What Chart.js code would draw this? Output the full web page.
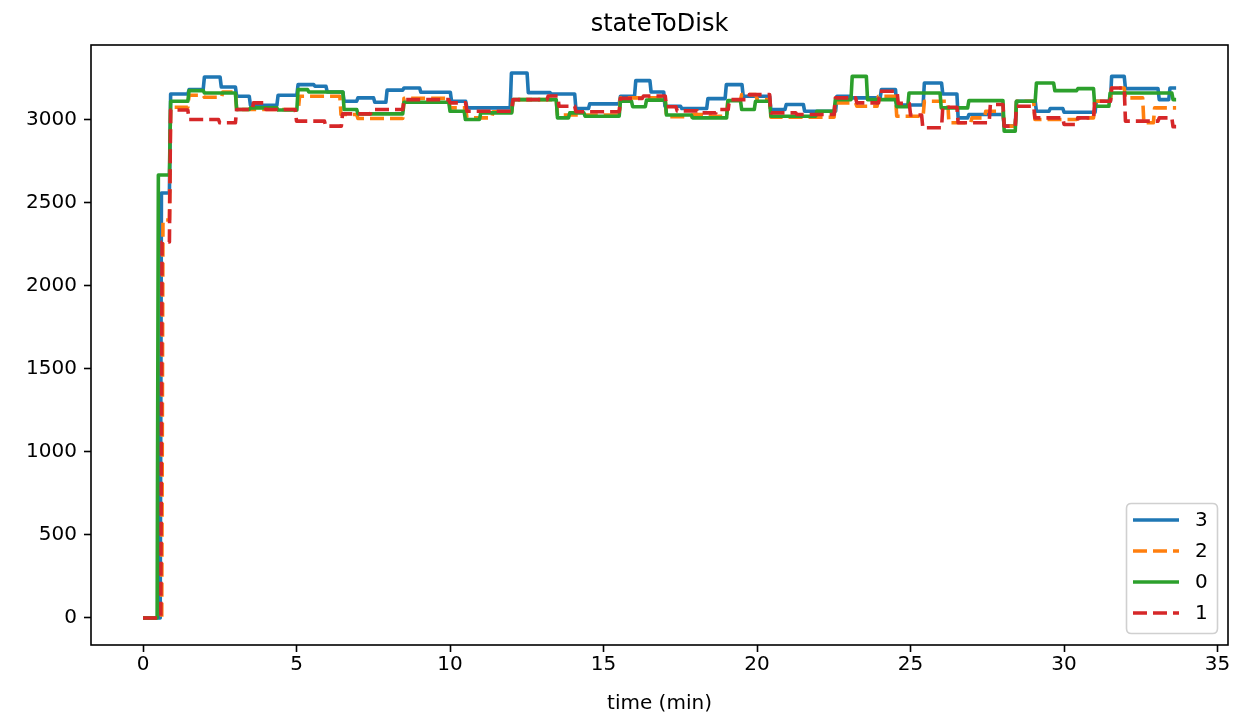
<!DOCTYPE html>
<html>
<head>
<meta charset="utf-8">
<title>stateToDisk</title>
<script src="https://cdn.jsdelivr.net/npm/chart.js@4/dist/chart.umd.min.js"></script>
<style>
  html, body { margin: 0; padding: 0; background: #fff; }
  #chart { display: block; }
</style>
</head>
<body>
<canvas id="chart" width="1233" height="721"></canvas>
<script>
// Step data: each value holds from its time until the next time
const endTime = 33.65;

const times3 = [0, 0.6, 0.9, 1.5, 2.0, 2.55, 3.05, 3.5, 4.4, 5.05, 5.6, 6.0, 6.55, 7.0, 7.55, 7.95, 8.5, 9.05, 10.05, 10.55, 12.0, 12.55, 13.3, 14.1, 14.55, 15.55, 16.05, 16.55, 17.0, 17.55, 18.4, 19.0, 19.55, 20.45, 20.95, 21.55, 22.6, 23.1, 24.05, 24.55, 25.45, 26.05, 26.55, 26.9, 28.05, 28.45, 29.1, 29.55, 30.0, 31.05, 31.55, 32.0, 33.1, 33.45];
const values3 = [0, 2560, 3157, 3183, 3259, 3199, 3143, 3089, 3149, 3213, 3203, 3169, 3113, 3133, 3107, 3180, 3193, 3167, 3113, 3073, 3283, 3165, 3157, 3069, 3097, 3143, 3237, 3169, 3083, 3069, 3129, 3213, 3143, 3063, 3093, 3053, 3143, 3133, 3183, 3090, 3223, 3157, 3013, 3033, 2963, 3113, 3053, 3069, 3047, 3113, 3263, 3189, 3123, 3193];

const times2 = [0, 0.65, 0.9, 1.5, 2.0, 2.6, 3.05, 5.1, 6.45, 7.0, 8.5, 10.0, 10.55, 11.4, 12.05, 13.5, 15.55, 17.05, 17.9, 18.5, 19.05, 19.5, 20.0, 20.45, 22.55, 23.25, 23.95, 24.55, 25.45, 26.25, 27.0, 27.45, 28.05, 28.45, 29.05, 30.45, 31.0, 31.55, 32.0, 32.6, 32.95];
const values2 = [0, 2398, 3077, 3149, 3137, 3169, 3063, 3143, 3033, 3009, 3130, 3073, 3013, 3050, 3123, 3030, 3133, 3020, 3033, 3023, 3120, 3153, 3123, 3017, 3103, 3083, 3143, 3023, 3113, 2983, 3013, 3053, 2963, 3113, 3003, 3013, 3113, 3193, 3133, 2983, 3073];

const times0 = [0, 0.5, 0.9, 1.5, 2.0, 3.05, 3.5, 4.4, 5.05, 5.4, 6.55, 7.0, 8.5, 10.0, 10.5, 11.0, 12.05, 13.5, 13.9, 14.4, 15.55, 15.95, 16.4, 17.05, 17.9, 19.05, 19.5, 19.95, 20.45, 21.95, 22.55, 23.1, 23.6, 24.55, 24.95, 26.0, 26.9, 28.05, 28.45, 29.1, 29.7, 30.45, 31.0, 31.5, 33.55];
const values0 = [0, 2669, 3113, 3177, 3163, 3063, 3073, 3060, 3183, 3169, 3063, 3037, 3107, 3053, 3003, 3043, 3123, 3013, 3043, 3023, 3113, 3080, 3120, 3030, 3013, 3117, 3063, 3113, 3023, 3053, 3123, 3263, 3123, 3080, 3163, 3073, 3117, 2933, 3113, 3223, 3177, 3189, 3083, 3163, 3123];

const times1 = [0, 0.62, 0.9, 1.5, 2.5, 3.05, 3.6, 4.0, 5.0, 5.95, 6.5, 7.45, 8.5, 10.0, 10.55, 12.05, 13.2, 13.55, 14.1, 15.55, 16.3, 17.05, 17.4, 18.1, 18.7, 19.1, 19.75, 20.45, 21.3, 22.55, 23.25, 24.0, 24.6, 25.0, 25.4, 26.05, 26.55, 27.6, 28.05, 28.45, 29.05, 30.0, 30.45, 31.0, 31.55, 32.0, 33.1, 33.55];
const values1 = [0, 2265, 3060, 3003, 2983, 3063, 3103, 3063, 2993, 2963, 3037, 3063, 3123, 3103, 3053, 3123, 3145, 3083, 3050, 3130, 3145, 3080, 3055, 3043, 3063, 3123, 3153, 3043, 3033, 3133, 3103, 3173, 3100, 3030, 2953, 3077, 2983, 3093, 2963, 3083, 3013, 2973, 3013, 3113, 3193, 2993, 3013, 2960];

const seriesNames = ["3", "2", "0", "1"];
const xTicks = [0, 5, 10, 15, 20, 25, 30, 35];
const yTicks = [0, 500, 1000, 1500, 2000, 2500, 3000];

const colors = ["#1f77b4", "#ff7f0e", "#2ca02c", "#d62728"];
const dashed = [false, true, false, true];
const FONT = "'DejaVu Sans', sans-serif";

// Turn the step lists into corner points for the line
function stepPoints(times, values) {
  let pts = [];
  for (let i = 0; i < times.length; i++) {
    let next = i + 1 < times.length ? times[i + 1] - 0.04 : endTime;
    pts.push({ x: times[i], y: values[i] });
    pts.push({ x: next, y: values[i] });
  }
  return pts;
}

const allSeries = [
  stepPoints(times3, values3),
  stepPoints(times2, values2),
  stepPoints(times0, values0),
  stepPoints(times1, values1)
];

const datasets = allSeries.map(function (pts, i) {
  return {
    label: seriesNames[i],
    data: pts,
    borderColor: colors[i],
    backgroundColor: colors[i],
    borderWidth: 3.6,
    borderDash: dashed[i] ? [14, 6] : [],
    borderCapStyle: "butt",
    borderJoinStyle: "round",
    pointRadius: 0,
    tension: 0,
    fill: false,
    order: 3 - i
  };
});

// Title, frame and legend drawn on top of the plot
const decorPlugin = {
  id: "decor",
  afterDraw(chart) {
    const ctx = chart.ctx;
    const a = chart.chartArea;
    ctx.save();

    ctx.strokeStyle = "#000";
    ctx.lineWidth = 1.6;
    ctx.setLineDash([]);
    ctx.strokeRect(a.left, a.top, a.right - a.left, a.bottom - a.top);

    ctx.fillStyle = "#000";
    ctx.font = "24px " + FONT;
    ctx.textAlign = "center";
    ctx.textBaseline = "alphabetic";
    ctx.fillText("stateToDisk", (a.left + a.right) / 2, 31);

    // legend box
    const bx = 1126.5, by = 503.5, bw = 91, bh = 130, r = 5;
    ctx.beginPath();
    ctx.moveTo(bx + r, by);
    ctx.lineTo(bx + bw - r, by);
    ctx.quadraticCurveTo(bx + bw, by, bx + bw, by + r);
    ctx.lineTo(bx + bw, by + bh - r);
    ctx.quadraticCurveTo(bx + bw, by + bh, bx + bw - r, by + bh);
    ctx.lineTo(bx + r, by + bh);
    ctx.quadraticCurveTo(bx, by + bh, bx, by + bh - r);
    ctx.lineTo(bx, by + r);
    ctx.quadraticCurveTo(bx, by, bx + r, by);
    ctx.closePath();
    ctx.fillStyle = "rgba(255,255,255,0.8)";
    ctx.fill();
    ctx.strokeStyle = "#d0d0d0";
    ctx.lineWidth = 1.6;
    ctx.stroke();

    ctx.font = "20px " + FONT;
    ctx.textAlign = "left";
    ctx.textBaseline = "middle";
    for (let i = 0; i < seriesNames.length; i++) {
      let y = 520 + i * 31;
      ctx.beginPath();
      ctx.strokeStyle = colors[i];
      ctx.lineWidth = 3.6;
      ctx.lineCap = "butt";
      ctx.setLineDash(dashed[i] ? [14, 6] : []);
      ctx.moveTo(1133, y);
      ctx.lineTo(1179, y);
      ctx.stroke();
      ctx.fillStyle = "#000";
      ctx.fillText(seriesNames[i], 1195, y + 1);
    }
    ctx.restore();
  }
};

new Chart(document.getElementById("chart").getContext("2d"), {
  type: "line",
  data: { datasets: datasets },
  options: {
    responsive: false,
    animation: false,
    devicePixelRatio: 1,
    layout: { padding: { top: 45, right: 5, left: 0, bottom: 0 } },
    plugins: {
      legend: { display: false },
      title: { display: false },
      tooltip: { enabled: false }
    },
    scales: {
      x: {
        type: "linear",
        min: -1.694,
        max: 35.34,
        afterBuildTicks: function (axis) {
          axis.ticks = xTicks.map(function (v) { return { value: v }; });
        },
        afterFit: function (scale) { scale.height = 76; },
        ticks: {
          color: "#000",
          font: { family: FONT, size: 20 },
          padding: 1,
          maxRotation: 0,
          autoSkip: false,
          callback: function (v) { return String(v); }
        },
        grid: {
          drawOnChartArea: false,
          drawTicks: true,
          tickLength: 7,
          tickWidth: 1.6,
          tickColor: "#000"
        },
        border: { display: false },
        title: {
          display: true,
          text: "time (min)",
          color: "#000",
          font: { family: FONT, size: 20 },
          padding: { top: 0, bottom: 5 }
        }
      },
      y: {
        type: "linear",
        min: -162.7,
        max: 3451.8,
        afterBuildTicks: function (axis) {
          axis.ticks = yTicks.map(function (v) { return { value: v }; });
        },
        afterFit: function (scale) { scale.width = 91; },
        ticks: {
          color: "#000",
          font: { family: FONT, size: 20 },
          padding: 7,
          callback: function (v) { return String(v); }
        },
        grid: {
          drawOnChartArea: false,
          drawTicks: true,
          tickLength: 7,
          tickWidth: 1.6,
          tickColor: "#000"
        },
        border: { display: false }
      }
    }
  },
  plugins: [decorPlugin]
});
</script>
</body>
</html>
